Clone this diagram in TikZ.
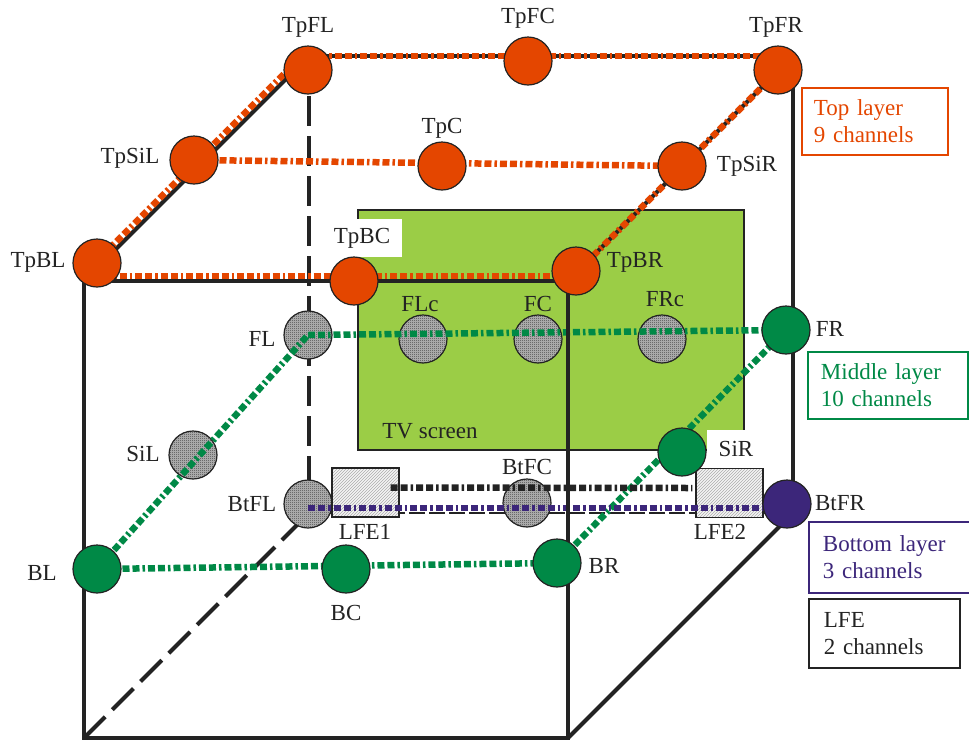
\documentclass[tikz,border=0pt]{standalone}
\usepackage{fontspec}
\setmainfont{Liberation Serif}
\usetikzlibrary{patterns,calc}
\definecolor{toporange}{RGB}{228,70,0}
\definecolor{midgreen}{RGB}{0,137,70}
\definecolor{botpurple}{RGB}{60,38,122}
\definecolor{screengreen}{RGB}{155,205,70}
\definecolor{edgegray}{RGB}{35,35,35}
\pgfdeclarelayer{screen}
\pgfdeclarelayer{edges}
\pgfdeclarelayer{under}
\pgfdeclarelayer{wires}
\pgfsetlayers{screen,edges,under,wires,main}

% fine stipple used for the screen-plane speakers
\pgfdeclarepatternformonly{finestipple}{\pgfqpoint{0pt}{0pt}}{\pgfqpoint{2pt}{2pt}}{\pgfqpoint{2pt}{2pt}}{%
  \pgfpathrectangle{\pgfqpoint{0pt}{0pt}}{\pgfqpoint{1pt}{1pt}}%
  \pgfpathrectangle{\pgfqpoint{1pt}{1pt}}{\pgfqpoint{1pt}{1pt}}%
  \pgfusepath{fill}}

\begin{document}
\begin{tikzpicture}[x=1pt,y=-1pt,
  every node/.style={font=\fontsize{23}{27}\selectfont, text=edgegray},
  spk/.style={circle, minimum size=48pt, inner sep=0pt, draw=edgegray, line width=1.2pt},
  topspk/.style={spk, fill=toporange},
  midspk/.style={spk, fill=midgreen},
  botspk/.style={spk, fill=botpurple},
  grayspk/.style={spk, preaction={fill=gray!55}, pattern=finestipple, pattern color=black!75},
  lfebox/.style={rectangle, minimum width=67pt, minimum height=49pt, inner sep=0pt,
    draw=edgegray, line width=1.3pt, preaction={fill=gray!8},
    pattern=north east lines, pattern color=gray!65},
  cubeedge/.style={draw=edgegray, line width=4pt},
  hiddenedge/.style={cubeedge, dash pattern=on 30pt off 10pt},
  chainline/.style={line width=6.5pt, dash pattern=on 7pt off 3pt on 7pt off 3pt on 2.5pt off 3pt},
  toplink/.style={chainline, draw=toporange},
  midlink/.style={chainline, draw=midgreen},
  botlink/.style={chainline, draw=botpurple},
  lfelink/.style={chainline, draw=edgegray},
  legend/.style={draw, line width=1.8pt, align=left, anchor=north west, inner ysep=0pt},
  whitetag/.style={fill=white, inner sep=0pt}
]
% page frame
\path[use as bounding box, clip] (0,0) rectangle (969,740);

% cube corners (front face and back face)
\coordinate (FTL) at (84,281);
\coordinate (FTR) at (568,281);
\coordinate (FBL) at (84,738);
\coordinate (FBR) at (568,738);
\coordinate (BTL) at (309,56);
\coordinate (BTR) at (793,56);
\coordinate (BBL) at (309,513);
\coordinate (BBR) at (793,513);

% TV screen and label backings
\begin{pgfonlayer}{screen}
  \node[rectangle, draw=edgegray, line width=1.5pt, fill=screengreen,
        minimum width=386pt, minimum height=240pt, inner sep=0pt] (tv) at (551,330) {};
  \node (tvlabel) at (430,431) {TV screen};
  \node[whitetag, minimum width=80pt, minimum height=38pt] (lTpBC) at (362,238) {TpBC};
  \node[whitetag, minimum width=58pt, minimum height=38pt] (lSiR) at (736,449) {SiR};
\end{pgfonlayer}

% cube edges behind the speaker chains
\begin{pgfonlayer}{edges}
  \draw[hiddenedge] (BTL) -- (BBL);
  \draw[hiddenedge] (FBL) -- (BBL);
  \draw[draw=edgegray, line width=1.4pt, dash pattern=on 16pt off 4pt] (BBL) -- (BBR);
  \draw[cubeedge] (BTL) -- (BTR) -- (BBR);
  \draw[cubeedge] (FTL) -- (BTL);
  \draw[cubeedge] (FTR) -- (BTR);
  \draw[cubeedge] (FBR) -- (BBR);
\end{pgfonlayer}

% screen-plane and bottom speakers, LFE units
\begin{pgfonlayer}{under}
  \node[grayspk] (FL)   at (308,335) {};
  \node[grayspk] (FLc)  at (423,339) {};
  \node[grayspk] (FC)   at (538,339) {};
  \node[grayspk] (FRc)  at (662,339) {};
  \node[grayspk] (SiL)  at (193,455) {};
  \node[grayspk] (BtFL) at (308,504) {};
  \node[grayspk] (BtFC) at (527,503) {};
  \node[lfebox] (LFE1) at (365.5,492.5) {};
  \node[lfebox] (LFE2) at (729.5,493) {};
\end{pgfonlayer}

% top layer speakers
\node[topspk] (TpFL)  at (308,70) {};
\node[topspk] (TpFC)  at (528,61) {};
\node[topspk] (TpFR)  at (778,70) {};
\node[topspk] (TpSiL) at (194,160) {};
\node[topspk] (TpC)   at (442,166) {};
\node[topspk] (TpSiR) at (682,166) {};
\node[topspk] (TpBL)  at (97,263) {};
\node[topspk] (TpBC)  at (354,281) {};
\node[topspk] (TpBR)  at (576,271) {};

% middle layer speakers
\node[midspk] (FR)  at (786,330) {};
\node[midspk] (SiR) at (682,452) {};
\node[midspk] (BL)  at (97,569) {};
\node[midspk] (BC)  at (346,569) {};
\node[midspk] (BR)  at (557,563) {};

% bottom layer speaker
\node[botspk] (BtFR) at (787,504) {};

% speaker chains and front face
\begin{pgfonlayer}{wires}
  \draw[toplink] (BTL) -- (BTR);
  \draw[toplink] (TpSiL.center) -- (TpSiR.center);
  \draw[toplink] ([shift={(-3.5,-3.5)}]FTL) -- ([shift={(-3.5,-3.5)}]BTL);
  \draw[toplink] (FTR) -- (BTR);
  \draw[toplink] ($(FTL)+(0,-5)$) -- ($(FTR)+(0,-5)$);

  \draw[midlink] (FL.center) -- (FR.center);
  \draw[midlink] (BL.center) -- (FL.center);
  \draw[midlink] (BR.center) -- (FR.center);
  \draw[midlink] (BL.center) -- (BR.center);

  \draw[lfelink] ($(LFE1.east)+(-9,-5)$) -- ($(LFE2.west)+(-3,-5)$);
  \draw[botlink] ($(BtFL.center)+(0,4)$) -- ($(BtFR.center)+(0,4)$);

  \draw[cubeedge] (FTL) rectangle (FBR);
\end{pgfonlayer}

% speaker names
\node (lTpFL)  at (308,27)  {TpFL};
\node (lTpFC)  at (528,18)  {TpFC};
\node (lTpFR)  at (776,27)  {TpFR};
\node (lTpSiL) at (130,158) {TpSiL};
\node (lTpC)   at (442,128) {TpC};
\node (lTpSiR) at (747,166) {TpSiR};
\node (lTpBL)  at (38,262)  {TpBL};
\node (lTpBR)  at (635,262) {TpBR};
\node (lFL)    at (262,339) {FL};
\node (lFLc)   at (420,304) {FLc};
\node (lFC)    at (538,304) {FC};
\node (lFRc)   at (665,299) {FRc};
\node (lFR)    at (830,329) {FR};
\node (lSiL)   at (143,454) {SiL};
\node (lBL)    at (42,573)  {BL};
\node (lBC)    at (346,613) {BC};
\node (lBR)    at (604,566) {BR};
\node (lBtFL)  at (252,504) {BtFL};
\node (lBtFC)  at (527,467) {BtFC};
\node (lBtFR)  at (840,503) {BtFR};
\node (lLFE1)  at (365,532) {LFE1};
\node (lLFE2)  at (720,532) {LFE2};

% legend
\node[legend, draw=toporange, text=toporange, text width=122pt, inner xsep=12pt,
      minimum height=67pt] (legTop) at (801,87) {Top layer\\9 channels};
\node[legend, draw=midgreen, text=midgreen, text width=134pt, inner xsep=13pt,
      minimum height=67pt] (legMid) at (807,351) {Middle layer\\10 channels};
\node[legend, draw=botpurple, text=botpurple, text width=138pt, inner xsep=14pt,
      minimum height=71pt] (legBot) at (808,521) {Bottom layer\\3 channels};
\node[legend, draw=edgegray, text=edgegray, text width=121pt, inner xsep=15pt,
      minimum height=69pt] (legLFE) at (808,598) {LFE\\2 channels};
\end{tikzpicture}
\end{document}
